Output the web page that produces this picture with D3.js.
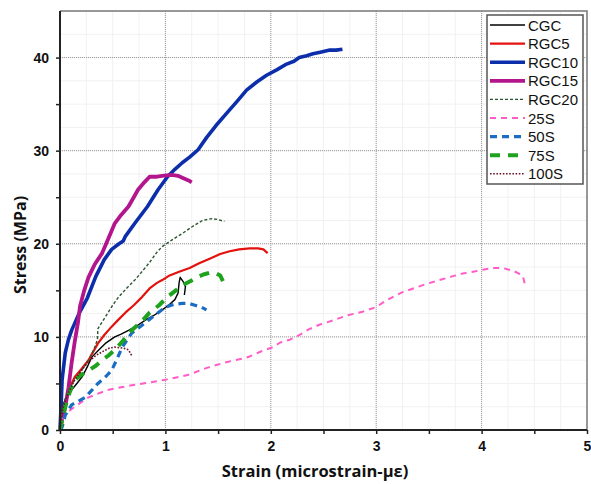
<!DOCTYPE html>
<html><head><meta charset="utf-8">
<script src="https://cdn.jsdelivr.net/npm/d3@7"></script>
<style>body{margin:0;background:#fff}svg{display:block}</style>
</head><body><svg id="c" width="591" height="484"></svg>
<script>
const xTicks=[0,1,2,3,4,5];
const yTicks=[0,10,20,30,40];
const seriesNames=["CGC","RGC5","RGC10","RGC15","RGC20","25S","50S","75S","100S"];
const CGC=[[0,0],[0.02,2.5],[0.06,3.5],[0.11,4.3],[0.16,5],[0.21,5.7],[0.26,6.8],[0.3,7.8],[0.36,8.5],[0.43,9.3],[0.52,10],[0.58,10.3],[0.65,10.7],[0.73,11.2],[0.81,11.8],[0.89,12.3],[0.97,12.9],[1.03,13.4],[1.09,14],[1.12,14.7],[1.13,15.8],[1.14,16.4],[1.17,15.9],[1.19,15.4],[1.18,14.5]];
const RGC5=[[0,0],[0.02,1.4],[0.05,2.6],[0.09,4.5],[0.14,5.7],[0.2,6.5],[0.27,7.5],[0.36,9.3],[0.42,10.2],[0.49,11.1],[0.55,11.8],[0.62,12.6],[0.7,13.4],[0.78,14.3],[0.85,15.2],[0.92,15.8],[0.97,16.1],[1.04,16.6],[1.13,17],[1.23,17.4],[1.32,17.9],[1.42,18.4],[1.52,18.9],[1.61,19.2],[1.7,19.4],[1.8,19.5],[1.88,19.5],[1.93,19.4],[1.97,19]];
const RGC10=[[0,0],[0.01,2.5],[0.02,5.4],[0.05,8.3],[0.08,9.7],[0.11,10.7],[0.18,12.5],[0.26,14.2],[0.34,16.5],[0.42,18.3],[0.49,19.4],[0.56,20],[0.6,20.3],[0.62,20.8],[0.71,22.2],[0.83,24],[0.93,25.8],[1.02,27.2],[1.09,28],[1.16,28.7],[1.23,29.3],[1.31,30.1],[1.39,31.4],[1.48,32.7],[1.58,34],[1.68,35.3],[1.77,36.5],[1.87,37.4],[1.96,38.1],[2.06,38.7],[2.15,39.3],[2.22,39.6],[2.27,40],[2.34,40.2],[2.4,40.4],[2.48,40.6],[2.56,40.8],[2.62,40.8],[2.68,40.9]];
const RGC15=[[0,0],[0.02,1.2],[0.05,2.5],[0.08,4.5],[0.11,7.2],[0.14,9.5],[0.17,11.5],[0.19,13.3],[0.23,15],[0.27,16.4],[0.33,17.8],[0.4,19],[0.46,20.6],[0.52,22.2],[0.58,23.1],[0.65,24],[0.7,25],[0.74,25.8],[0.8,26.6],[0.85,27.2],[0.92,27.2],[0.97,27.3],[1.06,27.4],[1.12,27.3],[1.16,27.1],[1.22,26.8],[1.25,26.6]];
const RGC20=[[0,0],[0.02,2.3],[0.07,4],[0.13,5.2],[0.2,6.3],[0.27,7.5],[0.32,8.6],[0.355,9.7],[0.36,10.9],[0.4,11.6],[0.45,12.5],[0.5,13.4],[0.55,14.2],[0.63,15.2],[0.71,16.1],[0.77,16.9],[0.85,18],[0.92,19.1],[0.97,19.7],[1.06,20.4],[1.16,21.1],[1.25,21.8],[1.35,22.5],[1.44,22.7],[1.5,22.6],[1.56,22.4]];
const S25=[[0,0],[0.02,1.1],[0.07,1.9],[0.14,2.5],[0.27,3.5],[0.45,4.3],[0.68,4.8],[0.85,5.1],[1.0,5.4],[1.21,5.9],[1.4,6.7],[1.55,7.2],[1.66,7.5],[1.75,7.7],[1.8,7.9],[1.9,8.4],[2.02,8.9],[2.09,9.4],[2.18,9.7],[2.27,10.2],[2.36,10.8],[2.46,11.3],[2.6,11.8],[2.72,12.3],[2.87,12.7],[3.0,13.2],[3.08,13.8],[3.16,14.3],[3.25,14.8],[3.35,15.2],[3.48,15.7],[3.6,16.1],[3.72,16.5],[3.82,16.8],[3.92,17],[4.01,17.2],[4.1,17.4],[4.2,17.4],[4.3,17.1],[4.39,16.6],[4.41,15.7]];
const S50=[[0,0],[0.02,0.3],[0.05,1.6],[0.11,2.7],[0.24,3.5],[0.36,5],[0.44,5.8],[0.49,6.4],[0.54,7.6],[0.59,8.9],[0.68,10.4],[0.76,11.1],[0.84,11.8],[0.92,12.5],[1.0,13.2],[1.08,13.5],[1.16,13.6],[1.22,13.6],[1.28,13.4],[1.34,13.2],[1.39,12.9]];
const S75=[[0,0],[0.01,0.5],[0.03,1.5],[0.05,2.5],[0.09,4],[0.14,5.4],[0.2,5.9],[0.27,6.4],[0.34,6.9],[0.4,7.5],[0.46,8],[0.52,8.6],[0.6,9.6],[0.68,10.7],[0.77,11.6],[0.85,12.6],[0.94,13.4],[1.02,14.3],[1.1,15],[1.17,15.6],[1.24,16],[1.3,16.4],[1.36,16.7],[1.42,16.9],[1.47,16.9],[1.52,16.6],[1.55,15.9]];
const S100=[[0,0],[0.03,2.5],[0.08,4],[0.14,5.4],[0.21,6.5],[0.27,7.3],[0.34,8],[0.4,8.4],[0.47,8.8],[0.52,8.9],[0.6,8.8],[0.65,8.6],[0.68,8]];
const dataList=[CGC,RGC5,RGC10,RGC15,RGC20,S25,S50,S75,S100];

const styles=[
 {c:"#000000",w:1.4,d:null},
 {c:"#e3120f",w:2.2,d:null},
 {c:"#0c2eab",w:3.6,d:null},
 {c:"#b3168c",w:3.8,d:null},
 {c:"#2b5530",w:1.4,d:"3,2"},
 {c:"#ff5cc8",w:2,d:"6,5"},
 {c:"#1b6cc3",w:3.2,d:"7,5"},
 {c:"#1fa31f",w:4,d:"10,8"},
 {c:"#6a1428",w:1.6,d:"1.6,1.6"}];

const svg=d3.select("#c");
const L=60,R=587,T=11,B=430;
const x=d3.scaleLinear().domain([0,5]).range([L,R]);
const y=d3.scaleLinear().domain([0,45]).range([B,T]);

// faint minor grid
const g0=svg.append("g");
g0.selectAll("line.mx").data(d3.range(0.25,5,0.25)).join("line")
 .attr("x1",d=>x(d)).attr("x2",d=>x(d)).attr("y1",T).attr("y2",B)
 .attr("stroke","#f1f1f1").attr("stroke-width",1);
g0.selectAll("line.my").data(d3.range(2.5,45,2.5)).join("line")
 .attr("x1",L).attr("x2",R).attr("y1",d=>y(d)).attr("y2",d=>y(d))
 .attr("stroke","#f1f1f1").attr("stroke-width",1);
// major dotted grid
g0.selectAll("line.gx").data(xTicks.slice(1,5)).join("line")
 .attr("x1",d=>x(d)).attr("x2",d=>x(d)).attr("y1",T).attr("y2",B)
 .attr("stroke","#9a9a9a").attr("stroke-width",1).attr("stroke-dasharray","1,1");
g0.selectAll("line.gy").data(yTicks.slice(1)).join("line")
 .attr("x1",L).attr("x2",R).attr("y1",d=>y(d)).attr("y2",d=>y(d))
 .attr("stroke","#9a9a9a").attr("stroke-width",1).attr("stroke-dasharray","1,1");
// frame top/right
svg.append("path").attr("d",`M${L},${T}H${R}V${B}`).attr("fill","none").attr("stroke","#777").attr("stroke-width",1.5);

// curves
const line=d3.line().x(d=>x(d[0])).y(d=>y(d[1]));
dataList.forEach((dat,i)=>{
  const s=styles[i];
  svg.append("path").datum(dat).attr("d",line).attr("fill","none")
   .attr("stroke",s.c).attr("stroke-width",s.w).attr("stroke-linejoin","round")
   .attr("stroke-dasharray",s.d);
});

// axes
const xa=svg.append("g").attr("transform",`translate(0,${B})`)
 .call(d3.axisBottom(x).tickValues(d3.range(0,5.01,0.5)).tickFormat(d=>Number.isInteger(d)?d:"").tickSize(4));
const ya=svg.append("g").attr("transform",`translate(${L},0)`)
 .call(d3.axisLeft(y).tickValues(d3.range(0,45,5)).tickFormat(d=>d%10===0?d:"").tickSize(4));
[xa,ya].forEach(a=>{
  a.select(".domain").attr("stroke","#222").attr("stroke-width",2);
  a.selectAll(".tick line").attr("stroke","#222").attr("stroke-width",1.5);
  a.selectAll(".tick text").attr("font-family","Liberation Sans, Arial, sans-serif")
   .attr("font-size",14).attr("font-weight","bold").attr("fill","#111");
});
xa.selectAll(".tick text").attr("dy","1.0em");
ya.selectAll(".tick text").attr("x",-11);
ya.select(".domain").attr("d",`M0,${T}V${B}`);
xa.select(".domain").attr("d",`M${L},0H${R}`);

// axis titles
svg.append("text").attr("x",315).attr("y",477).attr("text-anchor","middle")
 .attr("font-family","Open Sans, sans-serif").attr("font-weight","bold").attr("font-size",16.5)
 .attr("fill","#111").text("Strain (microstrain-με)");
svg.append("text").attr("transform","translate(26,245) rotate(-90)").attr("text-anchor","middle")
 .attr("font-family","Open Sans, sans-serif").attr("font-weight","bold").attr("font-size",16)
 .attr("fill","#111").text("Stress (MPa)");

// legend
const lg=svg.append("g");
lg.append("rect").attr("x",487).attr("y",15).attr("width",96).attr("height",169)
 .attr("fill","#fff").attr("stroke","#555").attr("stroke-width",1.5);
seriesNames.forEach((n,i)=>{
  const s=styles[i], yy=25+i*18.6;
  lg.append("line").attr("x1",490).attr("x2",525).attr("y1",yy).attr("y2",yy)
   .attr("stroke",s.c).attr("stroke-width",s.w).attr("stroke-dasharray",s.d);
  lg.append("text").attr("x",528).attr("y",yy+5.5).attr("font-family","Liberation Sans, Arial, sans-serif")
   .attr("font-size",15).attr("fill","#111").text(n);
});
</script></body></html>
